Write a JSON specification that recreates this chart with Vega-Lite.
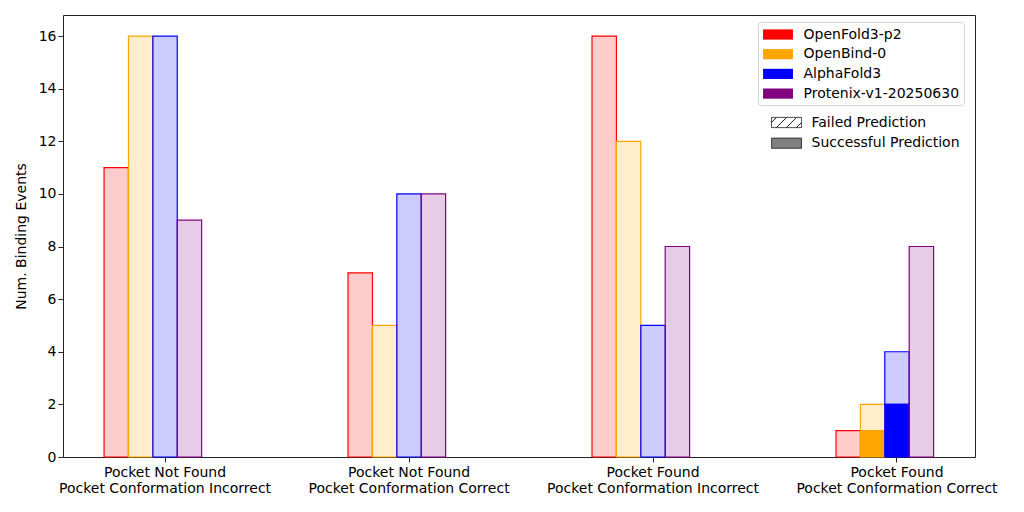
{
  "$schema": "https://vega.github.io/schema/vega-lite/v6.json",
  "width": 912,
  "height": 442,
  "autosize": {"type": "none"},
  "padding": {"left": 63, "top": 15, "right": 49, "bottom": 55},
  "background": "white",
  "data": {
    "values": [
      {"group": "Pocket Not Found\nPocket Conformation Incorrect", "model": "OpenFold3-p2", "outcome": "Failed Prediction", "count": 11},
      {"group": "Pocket Not Found\nPocket Conformation Incorrect", "model": "OpenBind-0", "outcome": "Failed Prediction", "count": 16},
      {"group": "Pocket Not Found\nPocket Conformation Incorrect", "model": "AlphaFold3", "outcome": "Failed Prediction", "count": 16},
      {"group": "Pocket Not Found\nPocket Conformation Incorrect", "model": "Protenix-v1-20250630", "outcome": "Failed Prediction", "count": 9},
      {"group": "Pocket Not Found\nPocket Conformation Correct", "model": "OpenFold3-p2", "outcome": "Failed Prediction", "count": 7},
      {"group": "Pocket Not Found\nPocket Conformation Correct", "model": "OpenBind-0", "outcome": "Failed Prediction", "count": 5},
      {"group": "Pocket Not Found\nPocket Conformation Correct", "model": "AlphaFold3", "outcome": "Failed Prediction", "count": 10},
      {"group": "Pocket Not Found\nPocket Conformation Correct", "model": "Protenix-v1-20250630", "outcome": "Failed Prediction", "count": 10},
      {"group": "Pocket Found\nPocket Conformation Incorrect", "model": "OpenFold3-p2", "outcome": "Failed Prediction", "count": 16},
      {"group": "Pocket Found\nPocket Conformation Incorrect", "model": "OpenBind-0", "outcome": "Failed Prediction", "count": 12},
      {"group": "Pocket Found\nPocket Conformation Incorrect", "model": "AlphaFold3", "outcome": "Failed Prediction", "count": 5},
      {"group": "Pocket Found\nPocket Conformation Incorrect", "model": "Protenix-v1-20250630", "outcome": "Failed Prediction", "count": 8},
      {"group": "Pocket Found\nPocket Conformation Correct", "model": "OpenFold3-p2", "outcome": "Failed Prediction", "count": 1},
      {"group": "Pocket Found\nPocket Conformation Correct", "model": "OpenBind-0", "outcome": "Successful Prediction", "count": 1},
      {"group": "Pocket Found\nPocket Conformation Correct", "model": "OpenBind-0", "outcome": "Failed Prediction", "count": 1},
      {"group": "Pocket Found\nPocket Conformation Correct", "model": "AlphaFold3", "outcome": "Successful Prediction", "count": 2},
      {"group": "Pocket Found\nPocket Conformation Correct", "model": "AlphaFold3", "outcome": "Failed Prediction", "count": 2},
      {"group": "Pocket Found\nPocket Conformation Correct", "model": "Protenix-v1-20250630", "outcome": "Failed Prediction", "count": 8}
    ]
  },
  "mark": {"type": "bar", "strokeWidth": 1.2},
  "encoding": {
    "x": {
      "field": "group",
      "type": "nominal",
      "sort": null,
      "scale": {"paddingInner": 0.5, "paddingOuter": 0.119, "align": 0.707},
      "axis": {
        "title": null,
        "labelAngle": 0,
        "labelLimit": 0,
        "labelExpr": "split(datum.label, '\\n')",
        "labelLineHeight": 16,
        "labelPadding": 3
      }
    },
    "xOffset": {
      "field": "model",
      "type": "nominal",
      "scale": {
        "domain": ["OpenFold3-p2", "OpenBind-0", "AlphaFold3", "Protenix-v1-20250630", "spare"],
        "paddingInner": 0,
        "paddingOuter": 0
      }
    },
    "y": {
      "field": "count",
      "type": "quantitative",
      "aggregate": "sum",
      "stack": "zero",
      "scale": {"domain": [0, 16.8], "nice": false},
      "axis": {
        "title": "Num. Binding Events",
        "values": [0, 2, 4, 6, 8, 10, 12, 14, 16],
        "titlePadding": 10
      }
    },
    "order": {"field": "outcome", "sort": "descending"},
    "color": {
      "field": "model",
      "type": "nominal",
      "scale": {
        "domain": ["OpenFold3-p2", "OpenBind-0", "AlphaFold3", "Protenix-v1-20250630"],
        "range": ["#ff0000", "#ffa500", "#0000ff", "#800080"]
      },
      "legend": {
        "title": null,
        "orient": "none",
        "legendX": 695,
        "legendY": 7,
        "padding": 4,
        "strokeColor": "#d4d4d4",
        "fillColor": "white",
        "cornerRadius": 3,
        "symbolType": "M-1.76,-0.6H1.76V0.6H-1.76Z",
        "symbolSize": 289,
        "symbolOffset": 7.5,
        "labelOffset": 17,
        "rowPadding": 3.7,
        "symbolStrokeWidth": 0,
        "symbolOpacity": 1
      }
    },
    "stroke": {
      "field": "model",
      "type": "nominal",
      "scale": {
        "domain": ["OpenFold3-p2", "OpenBind-0", "AlphaFold3", "Protenix-v1-20250630"],
        "range": ["#ff0000", "#ffa500", "#0000ff", "#800080"]
      },
      "legend": null
    },
    "fillOpacity": {
      "field": "outcome",
      "type": "nominal",
      "scale": {
        "domain": ["Failed Prediction", "Successful Prediction"],
        "range": [0.2, 1]
      },
      "legend": null
    },
    "strokeDash": {
      "field": "outcome",
      "type": "nominal",
      "scale": {
        "domain": ["Failed Prediction", "Successful Prediction"],
        "range": [[1, 0], [1, 0]]
      },
      "legend": {
        "title": null,
        "orient": "none",
        "legendX": 707,
        "legendY": 98.5,
        "padding": 0,
        "symbolType": "M-1.76,-0.6H1.76V0.6H-1.76Z",
        "symbolSize": 289,
        "symbolOffset": 7.5,
        "labelOffset": 16,
        "rowPadding": 3.7,
        "symbolFillColor": "#7f7f7f",
        "symbolStrokeColor": "#222222",
        "symbolStrokeWidth": 1,
        "encode": {
          "symbols": {
            "update": {
              "fill": [
                {
                  "test": "datum.value === 'Failed Prediction'",
                  "value": {
                    "gradient": "linear",
                    "x1": 0, "y1": 0, "x2": 1.2, "y2": 0.4,
                    "stops": [
                      {"offset": 0, "color": "white"},
                      {"offset": 0.105, "color": "white"},
                      {"offset": 0.105, "color": "#222222"},
                      {"offset": 0.145, "color": "#222222"},
                      {"offset": 0.145, "color": "white"},
                      {"offset": 0.355, "color": "white"},
                      {"offset": 0.355, "color": "#222222"},
                      {"offset": 0.395, "color": "#222222"},
                      {"offset": 0.395, "color": "white"},
                      {"offset": 0.605, "color": "white"},
                      {"offset": 0.605, "color": "#222222"},
                      {"offset": 0.645, "color": "#222222"},
                      {"offset": 0.645, "color": "white"},
                      {"offset": 0.855, "color": "white"},
                      {"offset": 0.855, "color": "#222222"},
                      {"offset": 0.895, "color": "#222222"},
                      {"offset": 0.895, "color": "white"},
                      {"offset": 1, "color": "white"}
                    ]
                  }
                },
                {"value": "#7f7f7f"}
              ],
              "fillOpacity": {"value": 1},
              "stroke": {"value": "#222222"},
              "strokeWidth": {"value": 1}
            }
          }
        }
      }
    }
  },
  "config": {
    "font": "DejaVu Sans",
    "view": {"stroke": "#222222", "strokeWidth": 1},
    "axis": {
      "grid": false,
      "domain": false,
      "tickColor": "#222222",
      "tickSize": 5,
      "tickWidth": 1,
      "labelColor": "black",
      "labelFontSize": 14,
      "labelFont": "DejaVu Sans",
      "titleFont": "DejaVu Sans",
      "titleFontSize": 14,
      "titleFontWeight": "normal",
      "titleColor": "black"
    },
    "legend": {
      "labelFont": "DejaVu Sans",
      "labelFontSize": 14,
      "labelColor": "black",
      "labelLimit": 0
    }
  }
}
